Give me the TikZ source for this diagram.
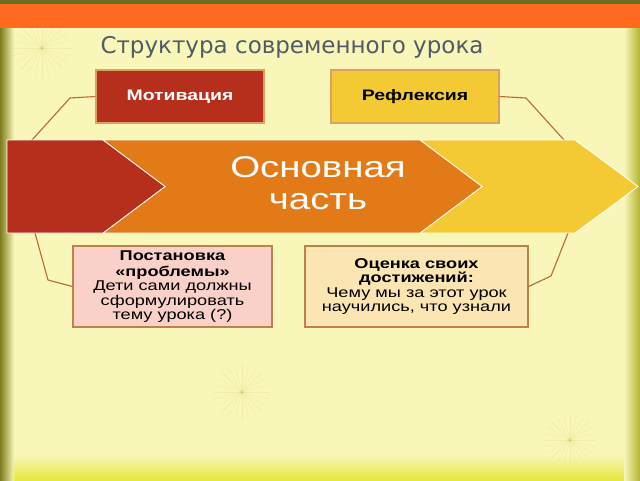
\documentclass[tikz,border=0pt]{standalone}
\usepackage{fontspec}
\setmainfont{Liberation Sans}
\newfontfamily\wide[FakeStretch=1.28]{Liberation Sans}
\newfontfamily\titlefont{DejaVu Sans}
\definecolor{bgc}{HTML}{F8F6B8}
\definecolor{oliveedge}{HTML}{7E7C1C}
\definecolor{rightedge}{HTML}{B4B42E}
\definecolor{bottomedge}{HTML}{E6E83C}
\definecolor{topdark}{HTML}{6E6C20}
\definecolor{barorange}{HTML}{FF6A1F}
\definecolor{titlegray}{HTML}{515B66}
\definecolor{redc}{HTML}{B52F1C}
\definecolor{orangec}{HTML}{E27A18}
\definecolor{yellowc}{HTML}{F3C934}
\definecolor{tanborder}{HTML}{DDA060}
\definecolor{brownborder}{HTML}{C0804A}
\definecolor{connc}{HTML}{B86A30}
\definecolor{pinkc}{HTML}{F9D1C8}
\definecolor{creamc}{HTML}{FBE5B2}
\begin{document}
\begin{tikzpicture}[x=1pt,y=-1pt,
  topbox/.style={draw=tanborder, line width=1.2pt, minimum width=168pt,
    minimum height=53pt, inner sep=0pt,
    font=\wide\bfseries\fontsize{15.2}{16}\selectfont},
  lowbox/.style={draw=brownborder, line width=1.2pt, minimum height=81pt,
    inner sep=0pt, align=center,
    font=\wide\fontsize{14.2}{14.4}\selectfont},
  conn/.style={draw=connc, line width=1.1pt, line join=round},
  chev/.style={draw=white, line width=0.8pt, line join=miter},
  ray/.style={line width=0.4pt, opacity=0.13}
]
\useasboundingbox (0,0) rectangle (640,480);
% background
\fill[bgc] (0,0) rectangle (640,480);
\shade[top color=bgc, bottom color=bottomedge] (0,455) rectangle (640,480);
\shade[left color=oliveedge, right color=bgc] (0,0) rectangle (14,480);
\shade[left color=bgc, right color=rightedge] (624,0) rectangle (640,480);
\fill[topdark] (0,0) rectangle (640,4);
\fill[barorange] (0,4) rectangle (640,28);
% faint sunburst decorations
\foreach \a in {0,15,...,345}
  \draw[ray, draw=olive!60!bgc] (42,48) -- ++(\a:30);
\foreach \a in {0,15,...,345}
  \draw[ray, draw=olive!60!bgc] (242,392) -- ++(\a:28);
\foreach \a in {0,15,...,345}
  \draw[ray, draw=olive!60!bgc] (570,440) -- ++(\a:26);
% title
\node[font=\titlefont\fontsize{23}{25}\selectfont, text=titlegray] (title) at (292,47) {Структура современного урока};
% boxes
\node[topbox, fill=redc, text=white] (mot) at (180,96.5) {Мотивация};
\node[topbox, fill=yellowc, text=black] (ref) at (415,96.5) {Рефлексия};
\node[lowbox, fill=pinkc, minimum width=199pt] (post) at (172.5,286.5)
  {\textbf{Постановка}\\[1.6pt]\textbf{«проблемы»}\\Дети сами должны\\сформулировать\\тему урока (?)};
\node[lowbox, fill=creamc, minimum width=223pt] (ocen) at (416.5,286.5)
  {\textbf{Оценка своих}\\\textbf{достижений:}\\Чему мы за этот урок\\научились, что узнали};
% connectors (behind chevrons)
\coordinate (l1) at (70,98);
\coordinate (l2) at (32,140);
\coordinate (l3) at (35,233);
\coordinate (l4) at (48,280);
\coordinate (r1) at (526,98);
\coordinate (r2) at (564,140);
\coordinate (r3) at (568,233);
\coordinate (r4) at (551,276);
\draw[conn] (mot.west) -- (l1) -- (l2) -- (l3) -- (l4) -- (post.west);
\draw[conn] (ref.east) -- (r1) -- (r2) -- (r3) -- (r4) -- (ocen.east);
% chevrons
\filldraw[chev, fill=yellowc] (420,140) -- (575,140) -- (638,186.5) -- (575,233) -- (420,233) -- (482,186.5) -- cycle;
\filldraw[chev, fill=orangec] (103,140) -- (420,140) -- (482,186.5) -- (420,233) -- (103,233) -- (165,186.5) -- cycle;
\filldraw[chev, fill=redc] (7,140) -- (103,140) -- (165,186.5) -- (103,233) -- (7,233) -- cycle;
\node[align=center, text=white, font=\wide\fontsize{30}{32}\selectfont] (main) at (318,183) {Основная\\часть};
\end{tikzpicture}
\end{document}
